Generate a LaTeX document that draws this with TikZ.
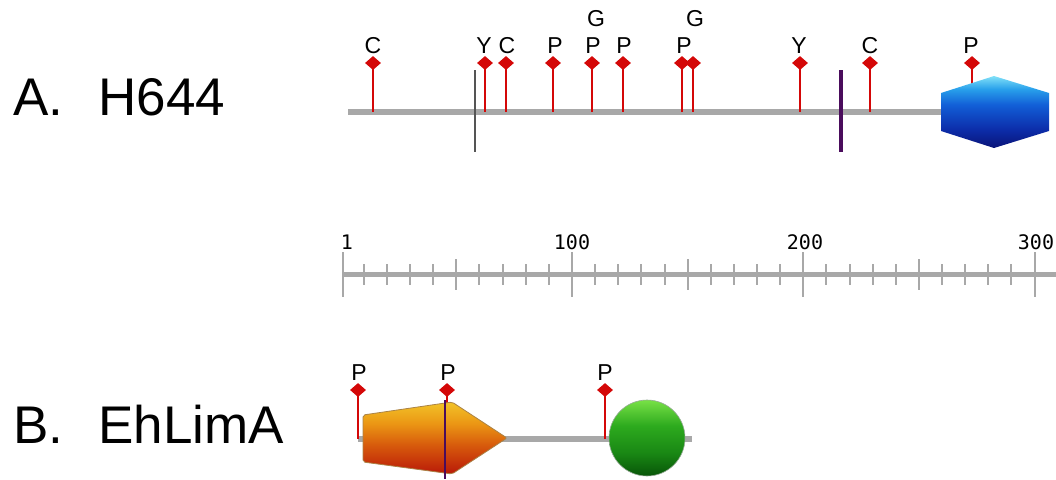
\documentclass[tikz,border=0pt]{standalone}
\usepackage{fontspec}
\setmainfont{Liberation Sans}
\newfontfamily\rulerfont{DejaVu Sans Mono}
\usetikzlibrary{shapes.geometric}
\definecolor{bbgray}{HTML}{A8A8A8}
\definecolor{sitered}{HTML}{D40808}
\definecolor{purp}{HTML}{4A0C5C}
\definecolor{tmgray}{HTML}{555555}
\pgfdeclareverticalshading{hexsh}{100bp}{%
  color(0bp)=(rgb,255:red,10;green,20;blue,120);
  color(25bp)=(rgb,255:red,10;green,20;blue,120);
  color(38bp)=(rgb,255:red,12;green,45;blue,170);
  color(55bp)=(rgb,255:red,18;green,95;blue,215);
  color(66bp)=(rgb,255:red,40;green,160;blue,235);
  color(75bp)=(rgb,255:red,130;green,225;blue,248);
  color(100bp)=(rgb,255:red,130;green,225;blue,248)}
\pgfdeclareverticalshading{pentsh}{100bp}{%
  color(0bp)=(rgb,255:red,185;green,25;blue,8);
  color(25bp)=(rgb,255:red,185;green,25;blue,8);
  color(45bp)=(rgb,255:red,215;green,90;blue,12);
  color(60bp)=(rgb,255:red,235;green,150;blue,20);
  color(75bp)=(rgb,255:red,242;green,195;blue,40);
  color(100bp)=(rgb,255:red,242;green,195;blue,40)}
\pgfdeclareverticalshading{ballsh}{100bp}{%
  color(0bp)=(rgb,255:red,8;green,85;blue,8);
  color(25bp)=(rgb,255:red,8;green,85;blue,8);
  color(40bp)=(rgb,255:red,25;green,135;blue,20);
  color(58bp)=(rgb,255:red,45;green,170;blue,30);
  color(75bp)=(rgb,255:red,120;green,225;blue,70);
  color(100bp)=(rgb,255:red,120;green,225;blue,70)}
\tikzset{
  backbone/.style={draw=bbgray, line width=5.5pt},
  stem/.style={draw=sitered, line width=2pt},
  site/.style={shape=diamond, fill=sitered, inner sep=0pt, minimum width=16pt, minimum height=14pt},
  lab/.style={font=\fontsize{23}{25}\selectfont, anchor=base, inner sep=0pt},
  big/.style={font=\fontsize{53}{58}\selectfont, anchor=base west, inner sep=0pt},
  tick/.style={draw=bbgray, line width=2pt},
  rlab/.style={font=\rulerfont\fontsize{20}{22}\selectfont, anchor=base, inner sep=0pt},
}
\begin{document}
\begin{tikzpicture}[x=1pt,y=-1pt]
\useasboundingbox (0,0) rectangle (1056,479);

% ---------- A. H644 ----------
\node[big] (labA) at (13,115) {A.\hspace{0.66em}H644};
\coordinate (a0) at (348,112);
\coordinate (a1) at (960,112);
\draw[backbone] (a0) -- (a1);

\foreach \x/\n in {373/1,485/2,506/3,553/4,592/5,623/6,682/7,693/8,800/9,870/10,972/11}{
  \coordinate (sa\n) at (\x,63);
  \draw[stem] (sa\n) -- (sa\n |- a0);
}
\coordinate (ga) at (475,70);  \coordinate (gb) at (475,152);
\draw[tmgray, line width=2pt] (ga) -- (gb);
\coordinate (pa) at (841,70);  \coordinate (pb) at (841,152);
\draw[purp, line width=4pt] (pa) -- (pb);

% hexagon domain
\shade[shading=hexsh]
  (941,93) -- (994,76) -- (1049,93) -- (1049,131) -- (994,148) -- (941,131) -- cycle;

\foreach \n in {1,...,11}{ \node[site] (da\n) at (sa\n) {}; }

\node[lab] (l1) at (373,53) {C};
\node[lab] (l2) at (484,53) {Y};
\node[lab] (l3) at (507,53) {C};
\node[lab] (l4) at (555,53) {P};
\node[lab] (l5) at (593,53) {P};
\node[lab] (l5g) at (596,27) {G};
\node[lab] (l6) at (624,53) {P};
\node[lab] (l7) at (684,53) {P};
\node[lab] (l8g) at (695,27) {G};
\node[lab] (l9) at (799,53) {Y};
\node[lab] (l10) at (870,53) {C};
\node[lab] (l11) at (971,53) {P};

% ---------- ruler ----------
\coordinate (r0) at (343,274);
\coordinate (r1) at (1056,274);
\draw[draw=bbgray, line width=5pt] (r0) -- (r1);
\foreach \v in {10,20,...,300}{
  \pgfmathsetmacro{\xx}{343+(\v-1)*2.313}
  \pgfmathtruncatemacro{\mh}{mod(\v,100)==0 ? 2 : (mod(\v,50)==0 ? 1 : 0)}
  \ifnum\mh=2
    \draw[tick] (\xx,252) -- (\xx,297);
  \else\ifnum\mh=1
    \draw[tick] (\xx,259) -- (\xx,290);
  \else
    \draw[tick] (\xx,264) -- (\xx,285);
  \fi\fi
}
\draw[tick] (343,252) -- (343,297);
\node[rlab] (t1) at (347,249) {1};
\node[rlab] (t100) at (572,249) {100};
\node[rlab] (t200) at (805,249) {200};
\node[rlab] (t300) at (1036,249) {300};

% ---------- B. EhLimA ----------
\node[big] (labB) at (13,443) {B.\hspace{0.66em}EhLimA};
\coordinate (b0) at (358,439);
\coordinate (b1) at (692,439);
\draw[backbone] (b0) -- (b1);
\foreach \x/\n in {358/1,447/2,605/3}{
  \coordinate (sb\n) at (\x,390);
  \draw[stem] (sb\n) -- (sb\n |- b0);
}
% pentagon domain
\shade[shading=pentsh, draw={rgb,255:red,170;green,130;blue,70}, line width=0.8pt, rounded corners=2pt]
  (363,415) -- (452,402) -- (507,438) -- (452,474) -- (363,462) -- cycle;
\coordinate (va) at (445,400); \coordinate (vb) at (445,479);
\draw[purp, line width=2pt] (va) -- (vb);
% sphere domain
\shade[shading=ballsh, draw={rgb,255:red,150;green,170;blue,150}, line width=0.6pt]
  (647,438) circle[radius=38];
\foreach \n in {1,2,3}{ \node[site] (db\n) at (sb\n) {}; }
\node[lab] (m1) at (359,380) {P};
\node[lab] (m2) at (448,380) {P};
\node[lab] (m3) at (605,380) {P};
\end{tikzpicture}
\end{document}
